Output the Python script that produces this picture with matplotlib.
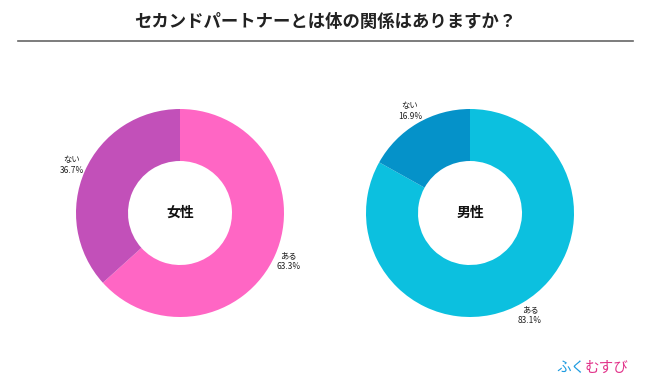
import matplotlib
matplotlib.use("Agg")
import matplotlib.pyplot as plt

plt.rcParams['font.family'] = ['Noto Sans CJK JP', 'DejaVu Sans']

title = "セカンドパートナーとは体の関係はありますか？"
answers = ["ある", "ない"]
female_values = [63.3, 36.7]
male_values = [83.1, 16.9]
group_names = ["女性", "男性"]
female_colors = ["#FF66C4", "#C250B9"]
male_colors = ["#0CC0DF", "#0592C9"]

W, H = 650, 390
fig = plt.figure(figsize=(6.5, 3.9), dpi=100)
ax = fig.add_axes([0, 0, 1, 1])

R = 104
centers = [(180, H - 213), (470, H - 213)]
for vals, cols, name, c in zip([female_values, male_values],
                               [female_colors, male_colors],
                               group_names, centers):
    labels = [f"{a}\n{v:.1f}%" for a, v in zip(answers, vals)]
    ax.pie(vals, colors=cols, labels=labels, startangle=90, counterclock=False,
           center=c, radius=R, labeldistance=1.14, frame=True,
           wedgeprops=dict(width=R * 0.5, edgecolor='none'),
           textprops=dict(fontsize=6, color='#222222', ha='center', va='center',
                          linespacing=1.3))
    ax.text(c[0], c[1], name, fontsize=10, fontweight='bold', ha='center',
            va='center', color='#111111')

ax.set_xlim(0, W)
ax.set_ylim(0, H)
ax.set_aspect('equal')
ax.axis('off')

fig.text(325 / W, 1 - 22 / H, title, fontsize=12.5, fontweight='bold',
         ha='center', va='center', color='#222222')
ax.plot([18, 633], [H - 41, H - 41], color='#666666', lw=1.2)

ax.text(556, H - 368, "ふく", fontsize=10.5, color='#1E9BE0', ha='left', va='center')
ax.text(585, H - 368, "むすび", fontsize=10.5, color='#E2338A', ha='left', va='center')

fig.savefig("out.png", dpi=100, facecolor='white')
